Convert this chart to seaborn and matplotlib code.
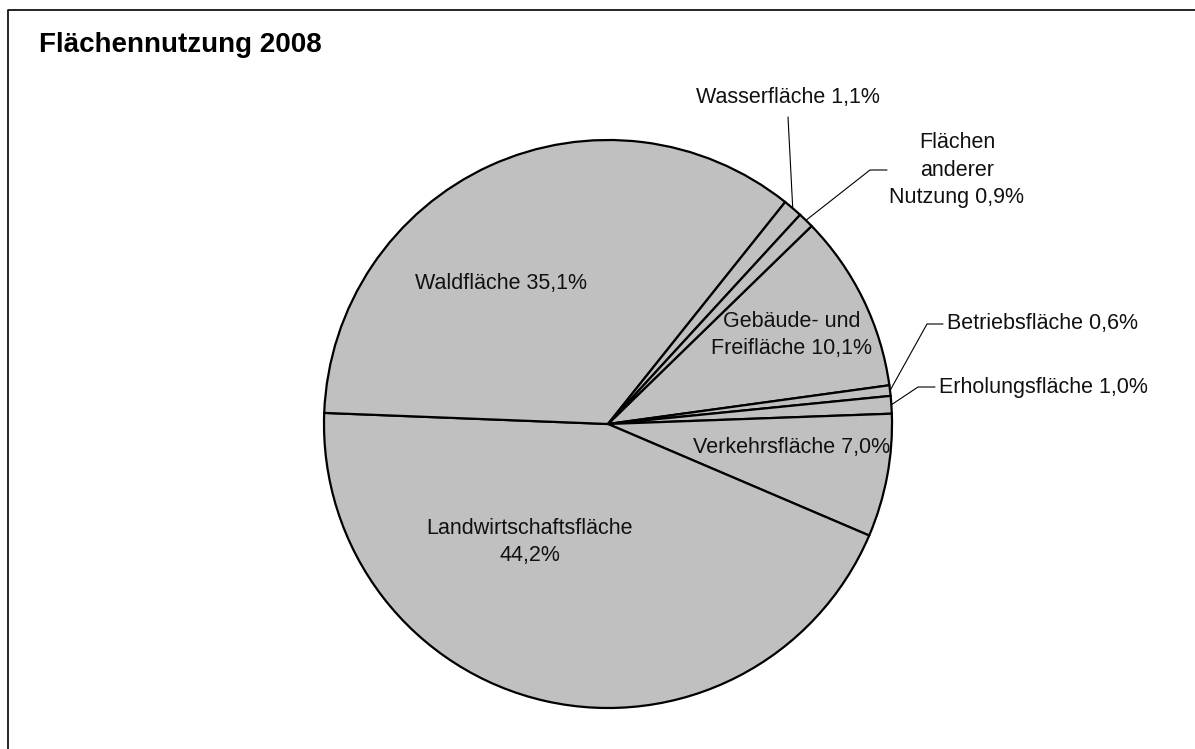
import numpy as np
import matplotlib
matplotlib.use("Agg")
import matplotlib.pyplot as plt
import seaborn as sns

sns.set_theme(style="white")
plt.rcParams['font.family'] = ['Liberation Sans', 'DejaVu Sans']

# Data (clockwise order, as in the source table)
categories = [
    "Gebäude- und Freifläche", "Betriebsfläche", "Erholungsfläche",
    "Verkehrsfläche", "Landwirtschaftsfläche", "Waldfläche",
    "Wasserfläche", "Flächen anderer Nutzung",
]
shares = [10.1, 0.6, 1.0, 7.0, 44.2, 35.1, 1.1, 0.9]
label_texts = [
    "Gebäude- und\nFreifläche 10,1%", "Betriebsfläche 0,6%",
    "Erholungsfläche 1,0%", "Verkehrsfläche 7,0%",
    "Landwirtschaftsfläche\n44,2%", "Waldfläche 35,1%",
    "Wasserfläche 1,1%", "Flächen\nanderer\nNutzung 0,9%",
]

W, H = 1195, 749
fig = plt.figure(figsize=(W / 100, H / 100), dpi=100)
ax = fig.add_axes([0, 0, 1, 1])

# chart frame (only top and left edge are visible in the image)
ax.plot([8, 8, W + 5], [-5, H - 10, H - 10], color="black", lw=1.2)

cx, cy, r = 608, H - 424, 284
start = 44.2
wedges, _ = ax.pie(
    shares, center=(cx, cy), radius=r, startangle=start, counterclock=False,
    colors=["#C0C0C0"] * len(shares),
    wedgeprops=dict(edgecolor="black", linewidth=1.6),
    frame=True,
)
ax.set_xlim(0, W)
ax.set_ylim(0, H)
ax.set_aspect("equal")
ax.axis("off")

fs = 15.5
ls = 1.4
# labels inside the pie (pixel positions, y from top)
inside = {
    0: (792, 335, "center"),
    3: (792, 448, "center"),
    4: (530, 542, "center"),
    5: (501, 283, "center"),
}
for i, (x, y, ha) in inside.items():
    ax.text(x, H - y, label_texts[i], ha=ha, va="center", fontsize=fs,
            color="#111111", multialignment="center", linespacing=ls)


def edge_point(i, frac):
    # point on the rim of wedge i, frac along its angle span
    w = wedges[i]
    ang = np.deg2rad(w.theta1 + frac * (w.theta2 - w.theta1))
    return cx + r * np.cos(ang), cy + r * np.sin(ang)


# outside labels with leader lines: (wedge, elbow, line end, text pos, ha)
outside = [
    (6, (788, 117), None, (788, 98), "center"),
    (7, (870, 170), (887, 170), (957, 170), "center"),
    (1, (927, 324), (943, 324), (947, 324), "left"),
    (2, (918, 387), (935, 387), (939, 387), "left"),
]
for i, elbow, end, tpos, ha in outside:
    px, py = edge_point(i, 0.5)
    xs = [px, elbow[0]]
    ys = [py, H - elbow[1]]
    if end is not None:
        xs.append(end[0])
        ys.append(H - end[1])
    ax.plot(xs, ys, color="black", lw=0.8)
    ax.text(tpos[0], H - tpos[1], label_texts[i], ha=ha, va="center",
            fontsize=fs, color="#111111", multialignment="center",
            linespacing=ls)

ax.text(39, H - 45, "Flächennutzung 2008", ha="left", va="center",
        fontsize=20, fontweight="bold", color="black")

fig.savefig("out.png", dpi=100)
